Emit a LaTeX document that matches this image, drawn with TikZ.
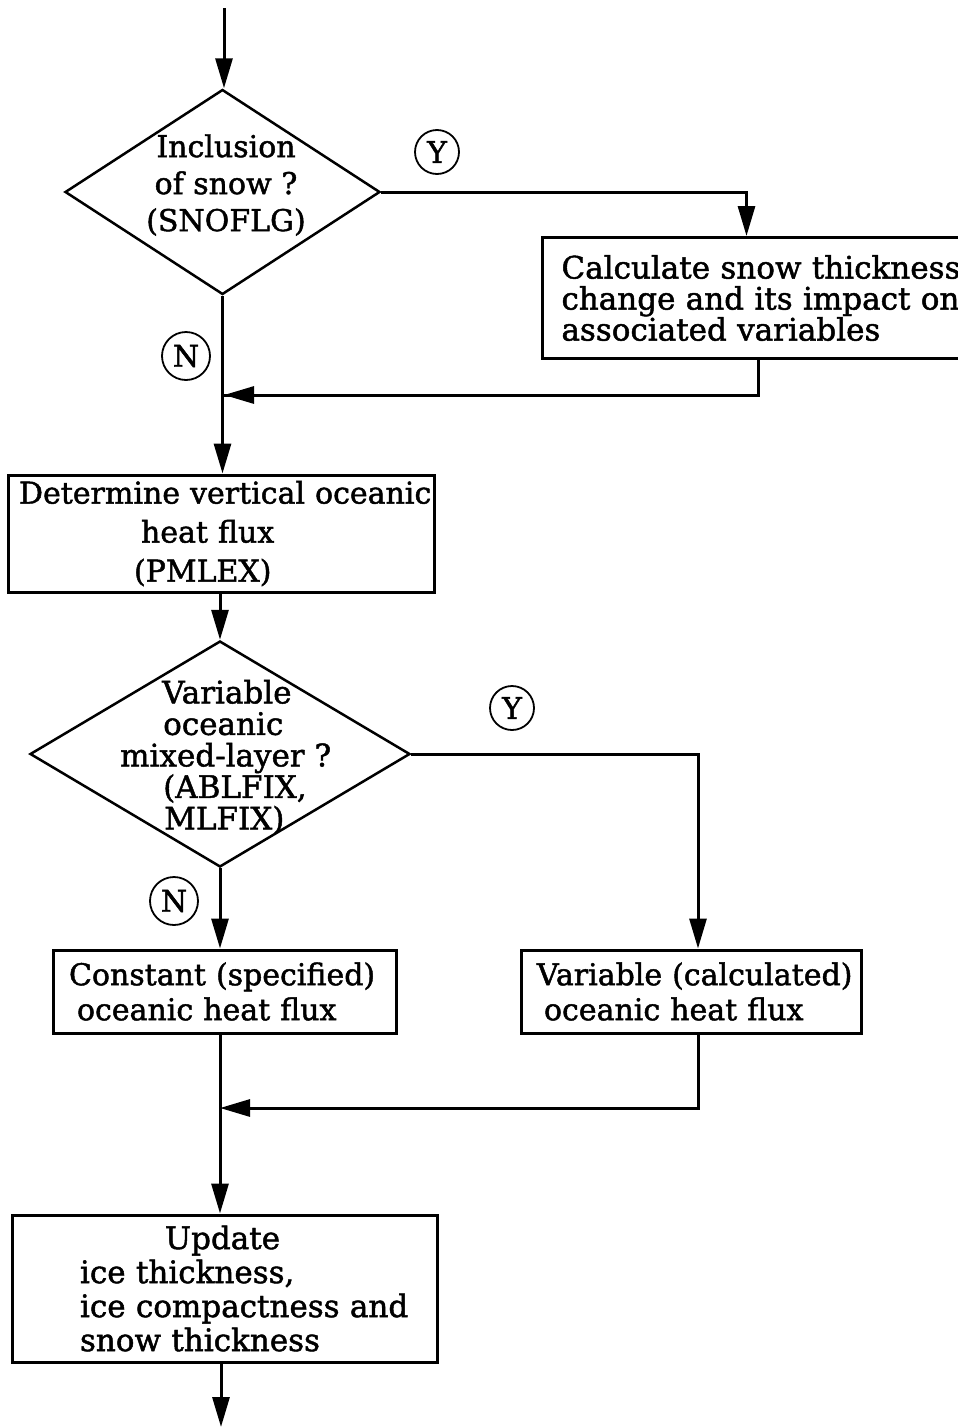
\documentclass[tikz,border=0pt]{standalone}
\usepackage{fontspec}
\setmainfont[FakeBold=1.5]{DejaVu Serif}
\usetikzlibrary{shapes.geometric,arrows.meta,calc}
\begin{document}
\begin{tikzpicture}[x=1pt,y=-1pt,
  conn/.style={line width=3pt},
  arr/.style={line width=3pt,-{Triangle[length=30pt,width=17pt]}},
  box/.style={draw,rectangle,line width=3pt,inner ysep=0pt,align=left},
  dec/.style={draw,diamond,line width=2.5pt,inner sep=0pt},
  txt/.style={inner sep=0pt},
  yn/.style={draw,circle,line width=1.8pt,inner sep=0pt,font=\fontsize{30}{30}\selectfont}]
\useasboundingbox (0,0) rectangle (958,1427);
\coordinate (start) at (224,8);
\coordinate (finish) at (221,1427);
% decision 1
\node[dec,minimum width=315pt,minimum height=205pt] (d1) at (222.5,192) {};
\node[txt,align=center,font=\fontsize{30}{37}\selectfont] (d1t) at (226,185) {Inclusion\\of snow ?\\(SNOFLG)};
\node[yn,minimum size=44pt] (y1) at (437,152) {Y};
\node[yn,minimum size=48pt] (n1) at (186,356) {N};
% box 2
\node[box,anchor=north west,minimum height=121pt,text width=410pt,inner xsep=19pt,
      font=\fontsize{31}{31}\selectfont] (b2) at (541,236)
  {\mbox{Calculate snow thickness}\\\mbox{change and its impact on}\\associated variables};
\coordinate (j1) at (224,395);
% box 3
\node[box,minimum width=426pt,minimum height=117pt,text width=404pt,inner xsep=11pt,
      font=\fontsize{30}{39}\selectfont] (b3) at (221,533.5)
  {\mbox{Determine vertical oceanic}\\\hspace*{122pt}heat flux\\\hspace*{115pt}(PMLEX)};
% decision 2
\node[dec,minimum width=380pt,minimum height=226pt] (d2) at (220,754) {};
\node[txt,anchor=west,align=left,font=\fontsize{31}{31.5}\selectfont] (d2t) at (120,757)
  {\hspace*{42pt}Variable\\\hspace*{43pt}oceanic\\mixed-layer ?\\\hspace*{43pt}(ABLFIX,\\\hspace*{44pt}MLFIX)};
\node[yn,minimum size=44pt] (y2) at (512,708) {Y};
\node[yn,minimum size=48pt] (n2) at (174,901) {N};
% boxes 4 and 5
\node[box,minimum width=343pt,minimum height=83pt,text width=311pt,inner xsep=16pt,
      font=\fontsize{30}{35}\selectfont] (b4) at (224.5,991.5)
  {\mbox{Constant (specified)}\\\hspace*{8pt}\mbox{oceanic heat flux}};
\node[box,minimum width=340pt,minimum height=83pt,text width=308pt,inner xsep=16pt,
      font=\fontsize{30}{35}\selectfont] (b5) at (691,991.5)
  {\mbox{Variable (calculated)}\\\hspace*{7pt}\mbox{oceanic heat flux}};
\coordinate (j2) at (220,1108);
% box 6
\node[box,minimum width=425pt,minimum height=147pt,text width=289pt,inner xsep=68pt,
      font=\fontsize{31}{34}\selectfont] (b6) at (224.5,1288.5)
  {\hspace*{85pt}Update\\\mbox{ice thickness,}\\\mbox{ice compactness and}\\\mbox{snow thickness}};
% connectors
\draw[arr] (start) -- (start |- d1.north);
\draw[arr] (d1.east) -| ([xshift=-20pt]b2.north);
\draw[conn] ([xshift=217pt]b2.south west) |- (j1);
\draw[arr] ([xshift=-15pt]b2.south west |- j1) -- (j1);
\draw[arr] (d1.south) -- (d1.south |- b3.north);
\draw[arr] (b3.south -| d2.north) -- (d2.north);
\draw[arr] (d2.east) -| ([xshift=7pt]b5.north);
\draw[arr] (d2.south) -- (d2.south |- b4.north);
\draw[arr] (j2 |- b4.south) -- (j2 |- b6.north);
\draw[conn] ([xshift=7pt]b5.south) |- ([xshift=30pt]j2);
\draw[arr] ([xshift=40pt]j2) -- (j2);
\draw[arr] (b6.south -| finish) -- (finish);
\end{tikzpicture}
\end{document}
